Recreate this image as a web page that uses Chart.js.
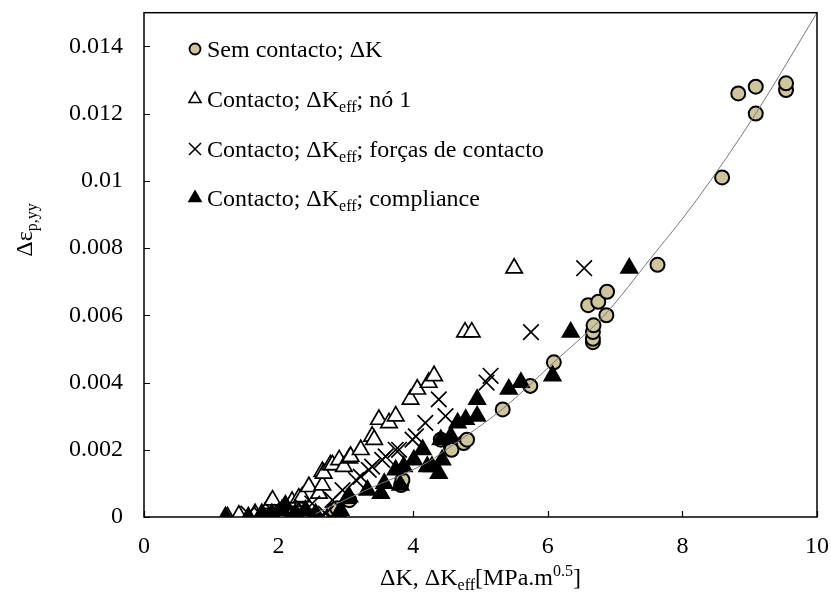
<!DOCTYPE html>
<html>
<head>
<meta charset="utf-8">
<script src="https://cdn.jsdelivr.net/npm/chart.js@4"></script>
<style>
  html, body { margin: 0; padding: 0; background: #fff; }
</style>
</head>
<body>
<canvas id="chart" width="831" height="597"></canvas>
<script>
// values: [deltaK, delta eps p,yy]
var semContacto = [[2.45,0.00003],[2.82,0.0002],[2.87,0.00026],[3.05,0.0005],[3.82,0.00095],[3.84,0.0011],
  [4.41,0.0023],[4.56,0.0021],[4.57,0.002],[4.75,0.0022],[4.8,0.0023],[5.33,0.0032],[5.74,0.0039],[6.09,0.0046],
  [6.6,0.0063],[6.67,0.0052],[6.67,0.0053],[6.67,0.0055],[6.68,0.0057],[6.75,0.0064],[6.87,0.006],[6.88,0.0067],
  [7.63,0.0075],[8.59,0.0101],[8.83,0.0126],[9.09,0.0128],[9.09,0.012],[9.54,0.0127],[9.54,0.0129]];

var contactoNo1 = [[1.24,0],[1.41,0.00005],[1.65,0.0001],[1.88,0.0004],[1.91,0.0005],[2.05,0.0002],[2.2,0.00046],
  [2.28,0],[2.3,0.00056],[2.35,0.0006],[2.45,0.0009],[2.6,0.0007],[2.65,0.00095],[2.65,0.00135],[2.67,0.0013],
  [2.77,0.00155],[2.8,0.00155],[2.9,0.0017],[2.97,0.0015],[3.05,0.00175],[3.07,0.0018],[3.22,0.002],[3.39,0.0024],
  [3.42,0.0023],[3.49,0.0029],[3.64,0.0028],[3.74,0.003],[3.96,0.0035],[4.06,0.0038],[4.23,0.004],[4.31,0.0042],
  [4.77,0.0055],[4.87,0.0055],[5.5,0.0074]];

var contactoForcas = [[1.55,0.0001],[1.75,0.00005],[1.9,0.0002],[2.05,0.00015],[2.2,0.0002],[2.35,0.0003],
  [2.5,0.0004],[2.62,0],[2.7,0.0001],[2.8,0.0005],[2.95,0.0008],[3.15,0.0011],[3.22,0.0012],[3.34,0.0014],
  [3.39,0.0015],[3.54,0.0017],[3.59,0.0018],[3.74,0.002],[3.79,0.002],[3.99,0.0023],[4.04,0.0024],[4.18,0.0028],
  [4.38,0.0035],[4.48,0.003],[5.09,0.004],[5.15,0.0042],[5.75,0.0055],[6.54,0.0074]];

var contactoCompliance = [[1.21,0],[1.55,0],[1.75,0.0001],[1.9,0.0001],[2.05,0.0002],[2.1,0.00035],[2.25,0.0001],
  [2.4,0.0002],[2.55,0.0001],[2.92,0],[2.92,0.0002],[3.02,0.00055],[3.05,0.0006],[3.32,0.0008],[3.52,0.0007],
  [3.57,0.001],[3.74,0.0014],[3.81,0.00095],[3.86,0.0015],[4.01,0.0017],[4.14,0.002],[4.21,0.0015],[4.28,0.0015],
  [4.38,0.0013],[4.41,0.0023],[4.43,0.0017],[4.56,0.0024],[4.66,0.0028],[4.78,0.0029],[4.95,0.003],[4.95,0.0035],
  [5.42,0.0038],[5.6,0.004],[6.07,0.0042],[6.34,0.0055],[7.21,0.0074]];

// trend curve, points
var trendCurve = [[2.55,0.0001],[3.3,0.0008],[4.23,0.00165],[4.56,0.0021],[5.32,0.0032],[6.09,0.0046],
  [6.84,0.006],[7.53,0.0077],[8.2,0.0094],[9.09,0.012],[10,0.015]];

var xTicks = [0, 2, 4, 6, 8, 10];
var yTicks = [0, 0.002, 0.004, 0.006, 0.008, 0.01, 0.012, 0.014];

var legendLabels = [
  [['Sem contacto; \u0394K', '']],
  [['Contacto; \u0394K', ''], ['eff', 'sub'], ['; n\u00f3 1', '']],
  [['Contacto; \u0394K', ''], ['eff', 'sub'], ['; for\u00e7as de contacto', '']],
  [['Contacto; \u0394K', ''], ['eff', 'sub'], ['; compliance', '']]
];
var xTitle = [['\u0394K, \u0394K', ''], ['eff', 'sub'], ['[MPa.m', ''], ['0.5', 'sup'], [']', '']];
var yTitle = [['\u0394\u03b5', ''], ['p,yy', 'sub']];

var FONT = '"Liberation Serif", "Times New Roman", serif';
var FS = 24;
var TAN = '#cec59f';

function toXY(arr) {
  return arr.map(function (p) { return {x: p[0], y: p[1]}; });
}

function drawRich(ctx, parts, x, y, align) {
  var small = Math.round(FS * 0.68);
  var widths = parts.map(function (p) {
    ctx.font = (p[1] ? small : FS) + 'px ' + FONT;
    return ctx.measureText(p[0]).width;
  });
  var total = widths.reduce(function (a, b) { return a + b; }, 0);
  var cx = align === 'center' ? x - total / 2 : x;
  ctx.textAlign = 'left';
  ctx.textBaseline = 'alphabetic';
  ctx.fillStyle = '#000';
  parts.forEach(function (p, i) {
    ctx.font = (p[1] ? small : FS) + 'px ' + FONT;
    var dy = p[1] === 'sub' ? 5 : (p[1] === 'sup' ? -9 : 0);
    ctx.fillText(p[0], cx, y + dy);
    cx += widths[i];
  });
}

var datasetStyles = [
  {pointStyle: 'circle', radius: 7, bg: TAN, border: '#000', bw: 2, legendR: 5.5},
  {pointStyle: 'triangle', radius: 9.5, bg: '#fff', border: '#000', bw: 1.7, legendR: 7},
  {pointStyle: 'crossRot', radius: 11, bg: '#000', border: '#000', bw: 1.7, legendR: 8.5},
  {pointStyle: 'triangle', radius: 9.5, bg: '#000', border: '#000', bw: 1.7, legendR: 7}
];

// frame, inward ticks, legend and axis titles
var decorations = {
  id: 'decorations',
  afterDraw: function (chart) {
    var ctx = chart.ctx;
    var a = chart.chartArea;
    var xs = chart.scales.x, ys = chart.scales.y;
    ctx.save();
    ctx.strokeStyle = '#000';
    ctx.lineWidth = 1.5;
    ctx.strokeRect(a.left, a.top, a.right - a.left, a.bottom - a.top);
    ctx.lineWidth = 1.2;
    ctx.beginPath();
    xTicks.forEach(function (v) {
      var px = Math.round(xs.getPixelForValue(v)) + 0.5;
      ctx.moveTo(px, a.bottom);
      ctx.lineTo(px, a.bottom - 6);
    });
    yTicks.forEach(function (v) {
      var py = Math.round(ys.getPixelForValue(v)) + 0.5;
      ctx.moveTo(a.left, py);
      ctx.lineTo(a.left + 6, py);
    });
    ctx.stroke();

    // legend
    var rows = [49, 99, 149, 198];
    legendLabels.forEach(function (parts, i) {
      var st = datasetStyles[i];
      var opts = {pointStyle: st.pointStyle, radius: st.legendR, borderWidth: st.bw * 0.9, rotation: 0};
      ctx.fillStyle = st.bg;
      ctx.strokeStyle = st.border;
      ctx.lineWidth = opts.borderWidth;
      Chart.helpers.drawPoint(ctx, opts, 195, rows[i]);
      drawRich(ctx, parts, 207, rows[i] + 8, 'left');
    });

    drawRich(ctx, xTitle, (a.left + a.right) / 2, 585, 'center');
    ctx.translate(32, 230);
    ctx.rotate(-Math.PI / 2);
    drawRich(ctx, yTitle, 0, 0, 'center');
    ctx.restore();
  }
};

var seriesData = [semContacto, contactoNo1, contactoForcas, contactoCompliance];
var datasets = seriesData.map(function (d, i) {
  var st = datasetStyles[i];
  return {
    type: 'scatter',
    data: toXY(d),
    pointStyle: st.pointStyle,
    pointRadius: st.radius,
    pointBackgroundColor: st.bg,
    pointBorderColor: st.border,
    pointBorderWidth: st.bw,
    order: 4 - i
  };
});
datasets.push({
  type: 'line',
  data: toXY(trendCurve),
  borderColor: '#7a7a7a',
  borderWidth: 1,
  pointRadius: 0,
  fill: false,
  tension: 0.4,
  cubicInterpolationMode: 'monotone',
  order: 0
});

new Chart(document.getElementById('chart'), {
  type: 'scatter',
  data: {datasets: datasets},
  options: {
    responsive: false,
    animation: false,
    layout: {padding: {left: 0, top: 12, right: 14, bottom: 0}},
    plugins: {legend: {display: false}, tooltip: {enabled: false}},
    scales: {
      x: {
        type: 'linear',
        min: 0,
        max: 10,
        afterBuildTicks: function (s) { s.ticks = xTicks.map(function (v) { return {value: v}; }); },
        afterFit: function (s) { s.height = 80; s.paddingLeft = 0; s.paddingRight = 0; },
        grid: {display: false, drawTicks: false},
        border: {display: false},
        ticks: {color: '#000', padding: 15, font: {family: FONT, size: FS}, maxRotation: 0}
      },
      y: {
        type: 'linear',
        min: 0,
        max: 0.015,
        afterBuildTicks: function (s) { s.ticks = yTicks.map(function (v) { return {value: v}; }); },
        afterFit: function (s) { s.width = 144; s.paddingTop = 0; s.paddingBottom = 0; },
        grid: {display: false, drawTicks: false},
        border: {display: false},
        ticks: {
          color: '#000',
          padding: 21,
          font: {family: FONT, size: FS},
          callback: function (v) { return String(+Number(v).toFixed(3)); }
        }
      }
    }
  },
  plugins: [decorations]
});
</script>
</body>
</html>
